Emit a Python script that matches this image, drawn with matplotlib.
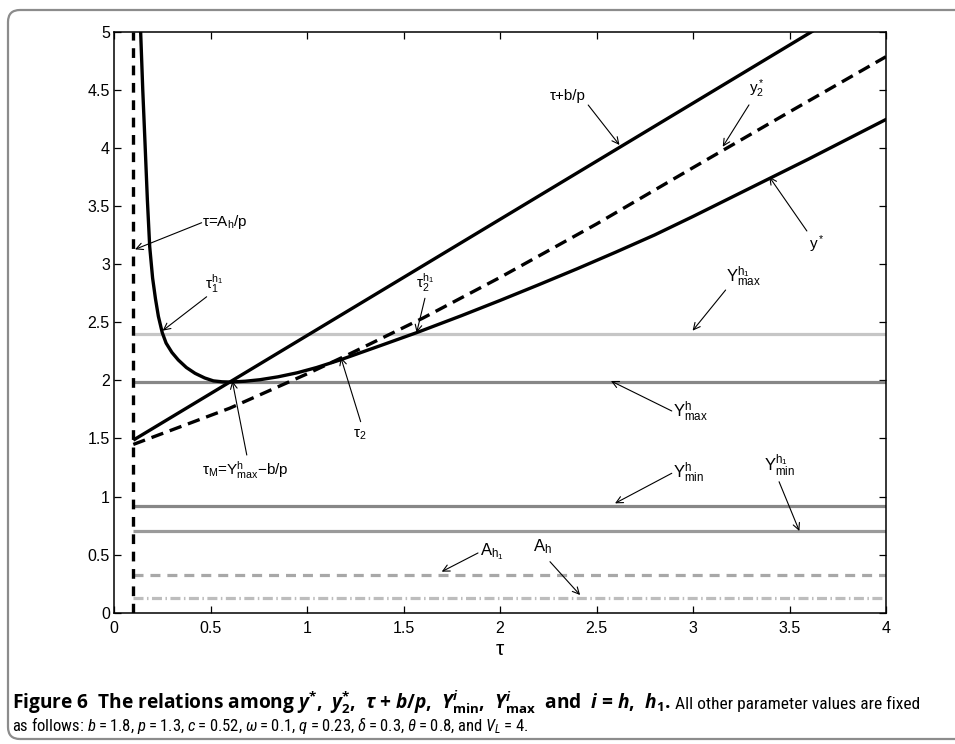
import matplotlib
matplotlib.use('Agg')
import matplotlib.pyplot as plt
from matplotlib import font_manager
from matplotlib.patches import FancyBboxPatch
from matplotlib.transforms import IdentityTransform

# ---------------- data ----------------
tau_ystar = [0.138, 0.149, 0.161, 0.173, 0.185, 0.20, 0.215, 0.23, 0.25, 0.27, 0.30,
             0.333, 0.375, 0.42, 0.47, 0.515, 0.56, 0.601, 0.68, 0.756, 0.85, 0.95,
             1.05, 1.171, 1.4, 1.568, 1.8, 2.0, 2.2, 2.4, 2.6, 2.8, 3.0, 3.2, 3.4,
             3.6, 3.8, 4.0]
ystar = [5.0, 4.5, 4.03, 3.55, 3.15, 2.88, 2.70, 2.55, 2.41, 2.32, 2.24,
         2.175, 2.11, 2.06, 2.02, 1.995, 1.987, 1.985, 1.992, 2.005, 2.03, 2.065,
         2.11, 2.175, 2.31, 2.41, 2.556, 2.687, 2.822, 2.96, 3.103, 3.25, 3.41, 3.575, 3.74,
         3.905, 4.075, 4.245]

tau_y2 = [0.1, 0.6, 1.0, 1.2, 1.6, 2.0, 2.5, 3.0, 3.5, 4.0]
y2star = [1.448, 1.76, 2.055, 2.21, 2.535, 2.885, 3.345, 3.83, 4.31, 4.785]

tau_bp = [0.1, 4.0]
bp_line = [1.485, 5.385]

tau_asym = 0.1          # tau = A_h / p
tau_range = [0.1, 4.0]  # extent of the horizontal levels
Y_h1_max = 2.40
Y_h_max = 1.983
Y_h_min = 0.916
Y_h1_min = 0.706
A_h1 = 0.324
A_h = 0.129

xticks = [0, 0.5, 1, 1.5, 2, 2.5, 3, 3.5, 4]
yticks = [0, 0.5, 1, 1.5, 2, 2.5, 3, 3.5, 4, 4.5, 5]

# ---------------- fonts ----------------
names = {f.name for f in font_manager.fontManager.ttflist}
cap_family = 'Roboto Condensed' if 'Roboto Condensed' in names else 'Liberation Sans'
bold_family = 'Open Sans' if 'Open Sans' in names else 'DejaVu Sans'

plt.rcParams['font.family'] = ['Liberation Sans', 'DejaVu Sans']
plt.rcParams['mathtext.fontset'] = 'custom'
plt.rcParams['mathtext.rm'] = 'Liberation Sans'
plt.rcParams['mathtext.it'] = cap_family + ':italic'
plt.rcParams['mathtext.bf'] = bold_family + ':bold'
plt.rcParams['mathtext.bfit'] = bold_family + ':bold:italic'
plt.rcParams['lines.scale_dashes'] = False

fig = plt.figure(figsize=(9.55, 7.44), dpi=100)
ax = fig.add_axes([114/955, 1-612.7/744, (886-114)/955, (612.7-31.7)/744])

# horizontal levels
ax.plot(tau_range, [Y_h1_max]*2, color='#c6c6c6', lw=2.3, solid_capstyle='butt')
ax.plot(tau_range, [Y_h_max]*2, color='#878787', lw=2.3, solid_capstyle='butt')
ax.plot(tau_range, [Y_h_min]*2, color='#878787', lw=2.3, solid_capstyle='butt')
ax.plot(tau_range, [Y_h1_min]*2, color='#9a9a9a', lw=2.3, solid_capstyle='butt')
ax.plot(tau_range, [A_h1]*2, color='#a8a8a8', lw=2.3, dashes=(7.2, 5.0))
ax.plot(tau_range, [A_h]*2, color='#bdbdbd', lw=2.3, dashes=(7.2, 2.5, 1.1, 2.5))

# curves
ax.plot(tau_bp, bp_line, color='k', lw=2.4, solid_capstyle='butt')
ax.plot(tau_y2, y2star, color='k', lw=2.4, dashes=(9.0, 5.0))
ax.plot(tau_ystar, ystar, color='k', lw=2.4, solid_joinstyle='round')
ax.plot([tau_asym, tau_asym], [0, 5], color='k', lw=2.4, dashes=(7.0, 5.5))

ax.set_xlim(0, 4)
ax.set_ylim(0, 5)
ax.set_xticks(xticks)
ax.set_yticks(yticks)
ax.set_xticklabels(['0', '0.5', '1', '1.5', '2', '2.5', '3', '3.5', '4'])
ax.set_yticklabels(['0', '0.5', '1', '1.5', '2', '2.5', '3', '3.5', '4', '4.5', '5'])
ax.tick_params(direction='in', length=5, width=0.9, top=True, right=True,
               labelsize=11.5, colors='k')
ax.tick_params(axis='x', pad=6)
ax.tick_params(axis='y', pad=3)
for s in ax.spines.values():
    s.set_linewidth(1.1)
ax.set_xlabel('τ', fontsize=15, labelpad=3)

# annotations
ap = dict(arrowstyle='->', lw=0.8, color='k', shrinkA=0, shrinkB=0, mutation_scale=12)

def note(label, tx, ty, sx, sy, px, py, fs=11):
    ax.text(tx, ty, label, fontsize=fs, ha='left', va='baseline')
    ax.annotate('', xy=(px, py), xytext=(sx, sy), arrowprops=ap)

note('τ=A' + r'$_\mathrm{h}$' + '/p', 0.456, 3.33, 0.454, 3.356, 0.109, 3.127)
note(r'$\mathrm{\tau_1^{h_1}}$', 0.472, 2.79, 0.480, 2.719, 0.252, 2.427)
note('τ+b/p', 2.259, 4.41, 2.457, 4.369, 2.619, 4.025)
note(r'$\mathrm{y_2^*}$', 3.290, 4.47, 3.290, 4.370, 3.154, 4.010)
note(r'$\mathrm{y^*}$', 3.601, 3.13, 3.59, 3.285, 3.395, 3.752)
note(r'$\mathrm{Y^{h_1}_{max}}$', 3.169, 2.85, 3.169, 2.777, 2.998, 2.427, fs=12)
note(r'$\mathrm{Y^{h}_{max}}$', 2.895, 1.687, 2.890, 1.736, 2.575, 1.994, fs=12)
note(r'$\mathrm{Y^{h}_{min}}$', 2.895, 1.157, 2.890, 1.200, 2.596, 0.941, fs=12)
note(r'$\mathrm{Y^{h_1}_{min}}$', 3.370, 1.222, 3.446, 1.127, 3.551, 0.703, fs=12)
note(r'$\mathrm{A_h}$', 2.173, 0.525, 2.259, 0.439, 2.415, 0.152, fs=12)
note(r'$\mathrm{A_{h_1}}$', 1.896, 0.497, 1.886, 0.514, 1.698, 0.353, fs=12)
note(r'$\mathrm{\tau_M}$' + '=' + r'$\mathrm{Y^h_{max}}$' + '\u2212b/p',
     0.454, 1.185, 0.688, 1.357, 0.613, 1.994)
note(r'$\mathrm{\tau_2}$', 1.240, 1.503, 1.278, 1.644, 1.175, 2.198)
note(r'$\mathrm{\tau_2^{h_1}}$', 1.565, 2.793, 1.611, 2.706, 1.568, 2.410)

# frame around figure + caption
box = FancyBboxPatch((8, 5), 1000, 729, boxstyle='round,pad=0,rounding_size=12',
                     transform=IdentityTransform(), facecolor='none',
                     edgecolor='#8c8c8c', lw=1.6)
fig.patches.append(box)

cap1 = (r'Figure 6  The relations among $\mathbfit{y}^{\mathbf{*}}$,  '
        r'$\mathbfit{y}_{\mathbf{2}}^{\mathbf{*}}$,  '
        r'$\mathbfit{\tau}\mathbf{\ {+}\ }\mathbfit{b}\mathbf{/}\mathbfit{p}$,  '
        r'$\mathbfit{Y}_{\mathbf{min}}^{\mathbfit{i}}$,  '
        r'$\mathbfit{Y}_{\mathbf{max}}^{\mathbfit{i}}$  and  '
        r'$\mathbfit{i}$ = $\mathbfit{h}$,  $\mathbfit{h}_{\mathbf{1}}$.')
cap1b = ' All other parameter values are fixed'
ts = '\u2009'
cap2 = ('as follows: $b$' + ts + '=' + ts + '1.8, $p$' + ts + '=' + ts + '1.3, $c$' + ts + '=' + ts +
        '0.52, $\\omega$' + ts + '=' + ts + '0.1, $q$' + ts + '=' + ts + '0.23, $\\delta$' + ts + '=' + ts +
        '0.3, $\\theta$' + ts + '=' + ts + '0.8, and $V_L$' + ts + '=' + ts + '4.')

fs0 = 12.0
t1 = fig.text(12/955, 1-709/744, cap1, fontsize=fs0, fontweight='bold',
              family=[bold_family, 'DejaVu Sans'], ha='left', va='baseline')
fig.canvas.draw()
bb = t1.get_window_extent()
fs1 = min(13.8, fs0 * (700 - 12) / max(bb.width, 1))
t1.set_fontsize(fs1)
fig.canvas.draw()
bb = t1.get_window_extent()
fig.text(bb.x1/955, 1-709/744, cap1b, fontsize=12.5, family=[cap_family, 'DejaVu Sans'],
         ha='left', va='baseline')
fig.text(12/955, 1-731/744, cap2, fontsize=12, family=[cap_family, 'DejaVu Sans'],
         ha='left', va='baseline')

fig.savefig('out.png', dpi=100)
